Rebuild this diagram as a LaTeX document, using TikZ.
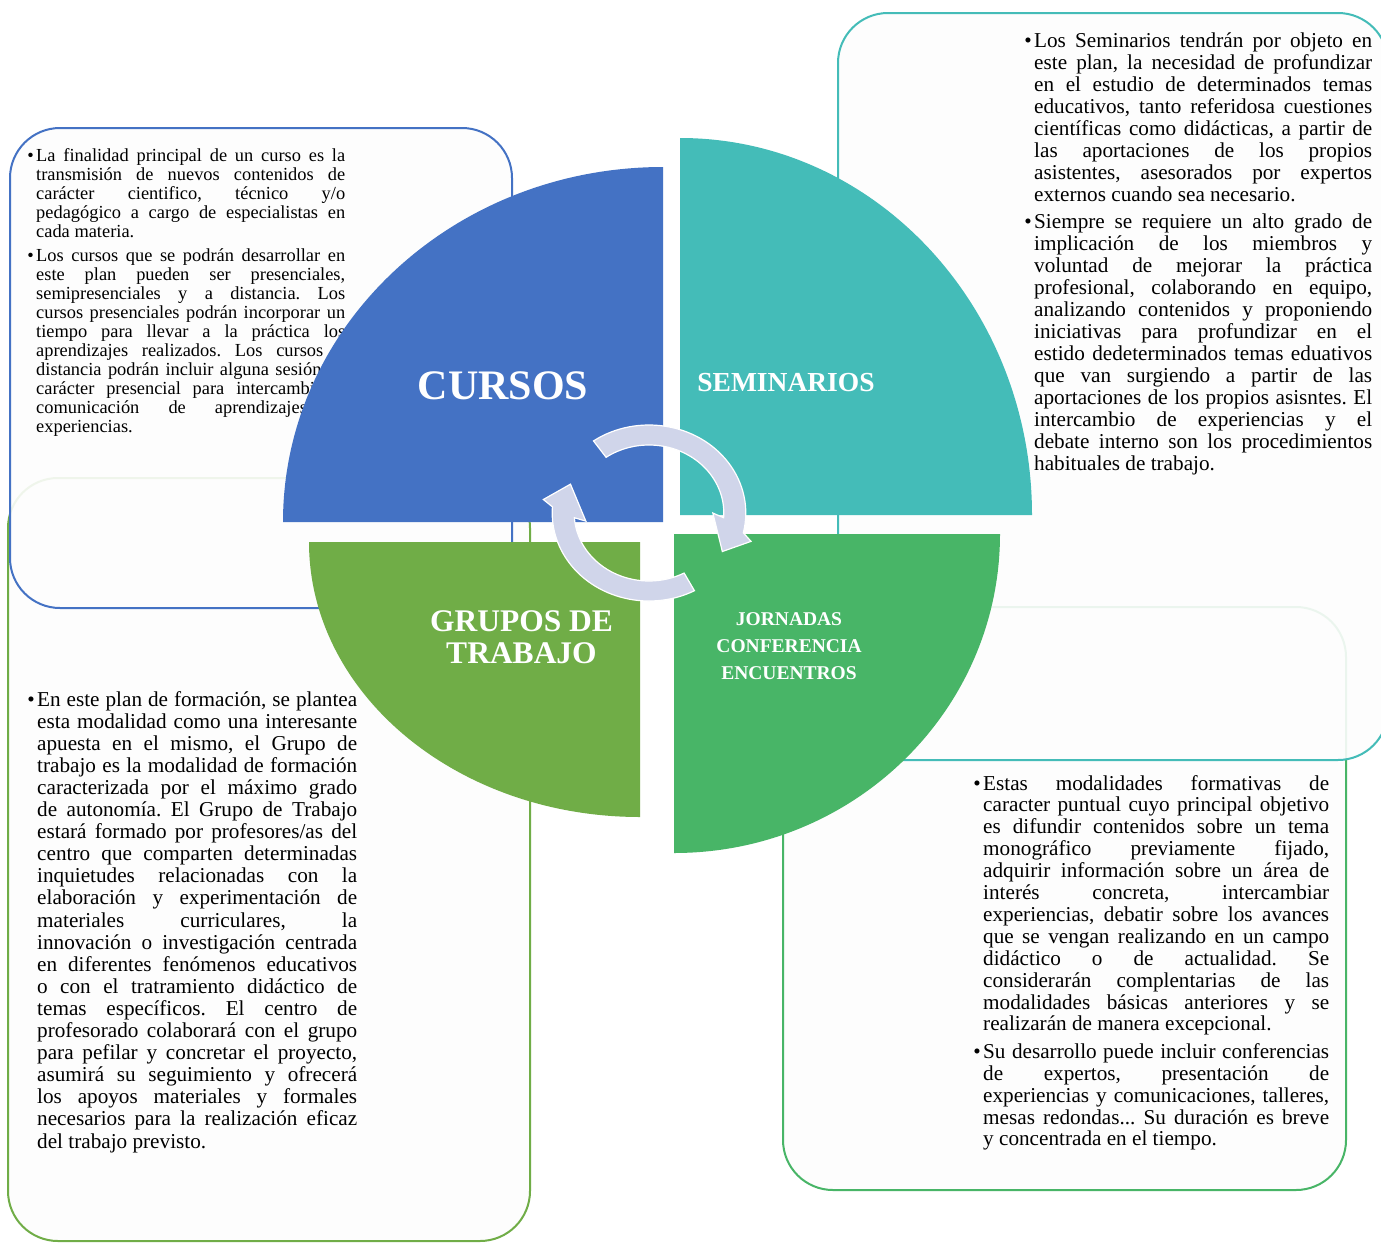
\documentclass[tikz,border=0pt]{standalone}
\usepackage{fontspec}
\setmainfont{Liberation Serif}
\definecolor{cursosC}{HTML}{4472C4}
\definecolor{semC}{HTML}{44BCB8}
\definecolor{grupC}{HTML}{70AD47}
\definecolor{jorC}{HTML}{48B567}
\definecolor{arrC}{HTML}{D0D5EA}
\definecolor{boxfill}{HTML}{FDFDFD}
\newlength\lw
\newcommand\jl[1]{\hbox to\lw{#1}}
\newcommand\el[1]{\hbox{#1}}
\newcommand\bul{\llap{•\hspace{2.5pt}}}
\newcommand\cl[1]{\hbox to 0pt{\hss#1\hss}}
\frenchspacing
\begin{document}
\begin{tikzpicture}[x=1pt,y=-1pt,
  box/.style={rounded corners=50pt, line width=2pt, fill=boxfill, fill opacity=0.9},
  txt/.style={anchor=base west, inner sep=0pt, text=black},
  lab/.style={anchor=base, inner sep=0pt, text=white}]
\useasboundingbox (0,0) rectangle (1381,1242);
\clip (0,0) rectangle (1381,1242);
\fill[white] (0,0) rectangle (1381,1242);
% text boxes
\draw[box, draw=grupC] (8,478) rectangle (530,1241);
\draw[box, draw=jorC] (783,607) rectangle (1346,1190);
\draw[box, draw=cursosC] (10,128) rectangle (512,608);
\draw[box, draw=semC] (838,13) rectangle (1388,760);
% texts
\node[txt] (tcur) at (36,161) {\vtop{\fontsize{18.4}{19.1}\selectfont\frenchspacing\lw=309pt\lineskiplimit=-100pt
\jl{\bul La finalidad principal de un curso es la}
\jl{transmisión de nuevos contenidos de}
\jl{carácter cientifico, técnico y/o}
\jl{pedagógico a cargo de especialistas en}
\el{cada materia.}
\vskip4.5pt
\jl{\bul Los cursos que se podrán desarrollar en}
\jl{este plan pueden ser presenciales,}
\jl{semipresenciales y a distancia. Los}
\jl{cursos presenciales podrán incorporar un}
\jl{tiempo para llevar a la práctica los}
\jl{aprendizajes realizados. Los cursos a}
\jl{distancia podrán incluir alguna sesión de}
\jl{carácter presencial para intercambio y}
\jl{comunicación de aprendizajes y}
\el{experiencias.}}};
\node[txt] (tsem) at (1034,47) {\vtop{\fontsize{21.2}{22}\selectfont\frenchspacing\lw=338pt\lineskiplimit=-100pt
\jl{\bul Los Seminarios tendrán por objeto en}
\jl{este plan, la necesidad de profundizar}
\jl{en el estudio de determinados temas}
\jl{educativos, tanto referidosa cuestiones}
\jl{científicas como didácticas, a partir de}
\jl{las aportaciones de los propios}
\jl{asistentes, asesorados por expertos}
\el{externos cuando sea necesario.}
\vskip5pt
\jl{\bul Siempre se requiere un alto grado de}
\jl{implicación de los miembros y}
\jl{voluntad de mejorar la práctica}
\jl{profesional, colaborando en equipo,}
\jl{analizando contenidos y proponiendo}
\jl{iniciativas para profundizar en el}
\jl{estido dedeterminados temas eduativos}
\jl{que van surgiendo a partir de las}
\jl{aportaciones de los propios asisntes. El}
\jl{intercambio de experiencias y el}
\jl{debate interno son los procedimientos}
\el{habituales de trabajo.}}};
\node[txt] (tgru) at (37,706) {\vtop{\fontsize{21.2}{22.1}\selectfont\frenchspacing\lw=320pt\lineskiplimit=-100pt
\jl{\bul En este plan de formación, se plantea}
\jl{esta modalidad como una interesante}
\jl{apuesta en el mismo, el Grupo de}
\jl{trabajo es la modalidad de formación}
\jl{caracterizada por el máximo grado}
\jl{de autonomía. El Grupo de Trabajo}
\jl{estará formado por profesores/as del}
\jl{centro que comparten determinadas}
\jl{inquietudes relacionadas con la}
\jl{elaboración y experimentación de}
\jl{materiales curriculares, la}
\jl{innovación o investigación centrada}
\jl{en diferentes fenómenos educativos}
\jl{o con el tratramiento didáctico de}
\jl{temas específicos. El centro de}
\jl{profesorado colaborará con el grupo}
\jl{para pefilar y concretar el proyecto,}
\jl{asumirá su seguimiento y ofrecerá}
\jl{los apoyos materiales y formales}
\jl{necesarios para la realización eficaz}
\el{del trabajo previsto.}}};
\node[txt] (tjor) at (983,790) {\vtop{\fontsize{21.2}{21.9}\selectfont\frenchspacing\lw=346pt\lineskiplimit=-100pt
\jl{\bul Estas modalidades formativas de}
\jl{caracter puntual cuyo principal objetivo}
\jl{es difundir contenidos sobre un tema}
\jl{monográfico previamente fijado,}
\jl{adquirir información sobre un área de}
\jl{interés concreta, intercambiar}
\jl{experiencias, debatir sobre los avances}
\jl{que se vengan realizando en un campo}
\jl{didáctico o de actualidad. Se}
\jl{considerarán complentarias de las}
\jl{modalidades básicas anteriores y se}
\el{realizarán de manera excepcional.}
\vskip5.5pt
\jl{\bul Su desarrollo puede incluir conferencias}
\jl{de expertos, presentación de}
\jl{experiencias y comunicaciones, talleres,}
\jl{mesas redondas... Su duración es breve}
\el{y concentrada en el tiempo.}}};
% quadrants
\fill[cursosC] (663,522) -- (283,522) arc[start angle=180, end angle=270, x radius=380, y radius=355] -- cycle;
\fill[semC] (680,515) -- (680,138) arc[start angle=270, end angle=360, x radius=352, y radius=377] -- cycle;
\fill[grupC] (640,542) -- (309,542) arc[start angle=180, end angle=90, x radius=331, y radius=275] -- cycle;
\fill[jorC] (674,534) -- (1000,534) arc[start angle=0, end angle=90, x radius=326, y radius=319] -- cycle;
% circular arrows
\begin{scope}[shift={(649,513)}, yscale=-1, xscale=1.1]
\filldraw[fill=arrC, draw=white, line width=1.2pt, line join=miter]
  (125:68) -- (125:88) arc[start angle=125, end angle=-13, radius=88]
  -- (-17:97) -- (-30:77) -- (0:58) -- (-4:68)
  arc[start angle=-4, end angle=125, radius=68] -- cycle;
\filldraw[fill=arrC, draw=white, line width=1.2pt, line join=miter]
  (-62:68) -- (-62:88) arc[start angle=-62, end angle=-184, radius=88]
  -- (-188:97) -- (-202:77) -- (-172:58) -- (-176:68)
  arc[start angle=-176, end angle=-62, radius=68] -- cycle;
\end{scope}
% labels
\node[lab, font=\fontsize{42}{42}\selectfont\bfseries] (lcur) at (503,399) {CURSOS};
\node[lab, font=\fontsize{27.5}{28}\selectfont\bfseries] (lsem) at (786,391) {SEMINARIOS};
\node[lab] (lgru) at (521.5,631) {\vtop{\fontsize{31.5}{32.5}\selectfont\bfseries\lineskiplimit=-100pt
\cl{GRUPOS DE}\cl{TRABAJO}}};
\node[lab] (ljor) at (789,625.5) {\vtop{\fontsize{19.5}{27}\selectfont\bfseries\lineskiplimit=-100pt
\cl{JORNADAS}\cl{CONFERENCIA}\cl{ENCUENTROS}}};
\end{tikzpicture}
\end{document}
